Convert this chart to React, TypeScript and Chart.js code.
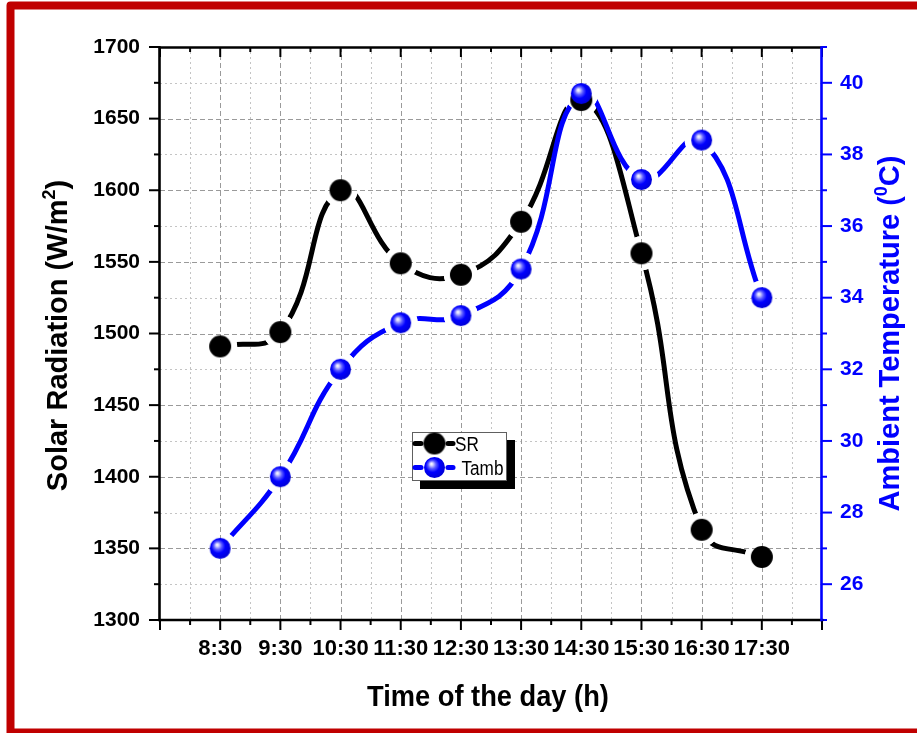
import React, { useEffect, useRef } from 'react';
import { Chart, registerables } from 'chart.js';

Chart.register(...registerables);

const FONT = '"Liberation Sans", Arial, Helvetica, sans-serif';

// ---- data ----
const TIMES = ['8:30', '9:30', '10:30', '11:30', '12:30', '13:30', '14:30', '15:30', '16:30', '17:30'];
const SR = [1491, 1501, 1600, 1549, 1541, 1578, 1663, 1556, 1363, 1344];
const TAMB = [27.0, 29.0, 32.0, 33.3, 33.5, 34.8, 39.7, 37.3, 38.4, 34.0];
const LEFT_TICKS = [1300, 1350, 1400, 1450, 1500, 1550, 1600, 1650, 1700];
const RIGHT_TICKS = [26, 28, 30, 32, 34, 36, 38, 40];
const X_MIN = -1; // 7:30
const X_MAX = 10; // 18:30

const BLUE = '#0000ff';
const HOLE = 17;

let BLACK_IMG: HTMLCanvasElement | null = null;
let BLUE_IMG: HTMLCanvasElement | null = null;

function makeBall(r: number, kind: 'black' | 'blue'): HTMLCanvasElement {
  const size = Math.ceil(r * 2 + 2);
  const c = document.createElement('canvas');
  c.width = size;
  c.height = size;
  const g = c.getContext('2d')!;
  const cx = size / 2;
  const cy = size / 2;
  g.beginPath();
  g.arc(cx, cy, r, 0, Math.PI * 2);
  if (kind === 'black') {
    g.fillStyle = '#000000';
  } else {
    const grad = g.createRadialGradient(cx - r * 0.3, cy - r * 0.35, 0, cx - r * 0.1, cy - r * 0.1, r * 1.1);
    grad.addColorStop(0, '#ffffff');
    grad.addColorStop(0.12, '#d8d8ff');
    grad.addColorStop(0.35, '#5a5aff');
    grad.addColorStop(0.6, '#0000ff');
    grad.addColorStop(1, '#0000d8');
    g.fillStyle = grad;
  }
  g.fill();
  return c;
}

type Part = { t: string; sup?: boolean };

function drawRich(ctx: CanvasRenderingContext2D, parts: Part[], size: number, color: string) {
  const normal = `bold ${size}px ${FONT}`;
  const small = `bold ${Math.round(size * 0.62)}px ${FONT}`;
  let total = 0;
  const widths = parts.map((p) => {
    ctx.font = p.sup ? small : normal;
    const w = ctx.measureText(p.t).width;
    total += w;
    return w;
  });
  let x = -total / 2;
  ctx.fillStyle = color;
  ctx.textAlign = 'left';
  ctx.textBaseline = 'alphabetic';
  parts.forEach((p, i) => {
    ctx.font = p.sup ? small : normal;
    ctx.fillText(p.t, x, p.sup ? -size * 0.4 : 0);
    x += widths[i];
  });
}

function hLine(ctx: CanvasRenderingContext2D, x1: number, x2: number, y: number) {
  ctx.beginPath();
  ctx.moveTo(x1, y);
  ctx.lineTo(x2, y);
  ctx.stroke();
}
function vLine(ctx: CanvasRenderingContext2D, x: number, y1: number, y2: number) {
  ctx.beginPath();
  ctx.moveTo(x, y1);
  ctx.lineTo(x, y2);
  ctx.stroke();
}

// clip path: whole canvas minus a small disc around each of the dataset's own markers
function holePath(chart: any, index: number): Path2D {
  const ds: any = chart.data.datasets[index];
  const ys = chart.scales[ds.yAxisID || 'y'];
  const xs = chart.scales.x;
  const p = new Path2D();
  p.rect(0, 0, chart.width, chart.height);
  (ds.data as any[]).forEach((d) => {
    const px = xs.getPixelForValue(d.x);
    const py = ys.getPixelForValue(d.y);
    p.moveTo(px + HOLE, py);
    p.arc(px, py, HOLE, 0, Math.PI * 2, true);
  });
  return p;
}

const gapPlugin = {
  id: 'markerGaps',
  beforeDatasetDraw(chart: any, args: any) {
    const ds: any = chart.data.datasets[args.index];
    if (!ds || ds.showLine === false) return;
    chart.ctx.save();
    chart.ctx.clip(holePath(chart, args.index), 'evenodd');
  },
  afterDatasetDraw(chart: any, args: any) {
    const ds: any = chart.data.datasets[args.index];
    if (!ds || ds.showLine === false) return;
    chart.ctx.restore();
  },
};

const gridPlugin = {
  id: 'originGrid',
  beforeDatasetsDraw(chart: any) {
    const { ctx, chartArea, scales } = chart;
    const { left, right, top, bottom } = chartArea;
    const xs = scales.x;
    const ys = scales.y;
    ctx.save();
    ctx.lineWidth = 1;
    ctx.strokeStyle = '#c4c4c4';
    ctx.setLineDash([2, 3]);
    for (let i = 0; i < LEFT_TICKS.length - 1; i++) {
      const v = (LEFT_TICKS[i] + LEFT_TICKS[i + 1]) / 2;
      hLine(ctx, left, right, Math.round(ys.getPixelForValue(v)) + 0.5);
    }
    for (let k = X_MIN; k < X_MAX; k++) {
      vLine(ctx, Math.round(xs.getPixelForValue(k + 0.5)) + 0.5, top, bottom);
    }
    ctx.strokeStyle = '#9a9a9a';
    ctx.setLineDash([5, 3]);
    for (let i = 1; i < LEFT_TICKS.length - 1; i++) {
      hLine(ctx, left, right, Math.round(ys.getPixelForValue(LEFT_TICKS[i])) + 0.5);
    }
    for (let k = X_MIN + 1; k < X_MAX; k++) {
      vLine(ctx, Math.round(xs.getPixelForValue(k)) + 0.5, top, bottom);
    }
    ctx.restore();
  },
};

const decorPlugin = {
  id: 'originDecor',
  afterDatasetsDraw(chart: any) {
    const { ctx, chartArea, scales } = chart;
    const { left, right, top, bottom } = chartArea;
    const xs = scales.x;
    const ys = scales.y;
    const y2 = scales.y2;
    ctx.save();
    ctx.setLineDash([]);
    ctx.lineCap = 'butt';
    ctx.lineWidth = 2;
    ctx.strokeStyle = '#000';
    LEFT_TICKS.forEach((v, i) => {
      hLine(ctx, left - 11, left, ys.getPixelForValue(v));
      if (i < LEFT_TICKS.length - 1) {
        hLine(ctx, left - 6, left, ys.getPixelForValue((v + LEFT_TICKS[i + 1]) / 2));
      }
    });
    for (let k = X_MIN; k <= X_MAX; k++) {
      const x = xs.getPixelForValue(k);
      vLine(ctx, x, bottom, bottom + 10);
      vLine(ctx, x, top, top + 10);
      if (k < X_MAX) {
        const xm = xs.getPixelForValue(k + 0.5);
        vLine(ctx, xm, bottom, bottom + 5);
        vLine(ctx, xm, top, top + 5);
      }
    }
    ctx.strokeStyle = BLUE;
    for (let v = y2.min; v <= y2.max; v++) {
      const major = RIGHT_TICKS.indexOf(v) >= 0;
      hLine(ctx, right, right + (major ? 10 : 5), y2.getPixelForValue(v));
    }
    ctx.lineWidth = 2.6;
    ctx.strokeStyle = '#000';
    hLine(ctx, left - 1.3, right, top + 0.5);
    hLine(ctx, left - 1.3, right + 1.3, bottom);
    vLine(ctx, left - 0.5, top - 0.8, bottom + 1.3);
    ctx.strokeStyle = BLUE;
    vLine(ctx, right - 0.5, top - 0.8, bottom + 1.3);
    ctx.restore();
  },
  afterDraw(chart: any) {
    const { ctx, chartArea } = chart;
    const { left, right } = chartArea;
    ctx.save();
    // ---- legend ----
    const lx = 412;
    const ly = 432;
    const lw = 95;
    const lh = 49;
    ctx.fillStyle = '#000';
    ctx.fillRect(lx + 8, ly + 8, lw, lh);
    ctx.fillStyle = '#fff';
    ctx.fillRect(lx, ly, lw, lh);
    ctx.strokeStyle = '#606060';
    ctx.lineWidth = 1;
    ctx.strokeRect(lx + 0.5, ly + 0.5, lw - 1, lh - 1);
    const rows = [
      { y: ly + 11.5, color: '#000', img: BLACK_IMG, label: 'SR', tx: 455 },
      { y: ly + 35.5, color: BLUE, img: BLUE_IMG, label: 'Tamb', tx: 461.5 },
    ];
    rows.forEach((r) => {
      ctx.strokeStyle = r.color;
      ctx.lineWidth = 5;
      ctx.lineCap = 'round';
      hLine(ctx, 415, 421, r.y);
      hLine(ctx, 448, 453, r.y);
      if (r.img) ctx.drawImage(r.img, 434.5 - r.img.width / 2, r.y - r.img.height / 2);
      ctx.save();
      ctx.translate(r.tx, r.y + 7);
      ctx.scale(0.88, 1);
      ctx.font = `19.5px ${FONT}`;
      ctx.fillStyle = '#000';
      ctx.textAlign = 'left';
      ctx.textBaseline = 'alphabetic';
      ctx.fillText(r.label, 0, 0);
      ctx.restore();
    });
    // ---- titles ----
    ctx.save();
    ctx.translate((left + right) / 2 - 3, 706);
    ctx.scale(0.94, 1);
    drawRich(ctx, [{ t: 'Time of the day (h)' }], 29, '#000');
    ctx.restore();

    ctx.save();
    ctx.translate(67, 335.5);
    ctx.rotate(-Math.PI / 2);
    drawRich(ctx, [{ t: 'Solar Radiation (W/m' }, { t: '2', sup: true }, { t: ')' }], 29, '#000');
    ctx.restore();

    ctx.save();
    ctx.translate(899, 333.5);
    ctx.rotate(-Math.PI / 2);
    drawRich(ctx, [{ t: 'Ambient Temperature (' }, { t: '0', sup: true }, { t: 'C)' }], 29, BLUE);
    ctx.restore();

    // ---- red frame ----
    ctx.strokeStyle = '#c00000';
    ctx.lineWidth = 8;
    ctx.lineJoin = 'round';
    ctx.strokeRect(10.5, 5.5, 960, 727);
    ctx.restore();
  },
};

export default function App() {
  const ref = useRef<HTMLCanvasElement | null>(null);

  useEffect(() => {
    const canvas = ref.current;
    if (!canvas) return;
    BLACK_IMG = makeBall(11, 'black');
    BLUE_IMG = makeBall(10.5, 'blue');
    const srPts = SR.map((v, i) => ({ x: i, y: v }));
    const tPts = TAMB.map((v, i) => ({ x: i, y: v }));

    const chart = new Chart(canvas, {
      type: 'line',
      data: {
        datasets: [
          { data: srPts, yAxisID: 'y', borderColor: '#000', borderWidth: 5, pointRadius: 0, tension: 0.45, order: 4 },
          { data: srPts, yAxisID: 'y', showLine: false, pointStyle: BLACK_IMG as any, pointRadius: 11, order: 3 },
          { data: tPts, yAxisID: 'y2', borderColor: BLUE, borderWidth: 5, pointRadius: 0, tension: 0.45, order: 2 },
          { data: tPts, yAxisID: 'y2', showLine: false, pointStyle: BLUE_IMG as any, pointRadius: 10.5, order: 1 },
        ],
      },
      options: {
        animation: false,
        responsive: false,
        events: [],
        layout: { padding: { top: 47, left: 0, right: 0, bottom: 0 } },
        plugins: {
          legend: { display: false },
          tooltip: { enabled: false },
          title: { display: false },
        },
        scales: {
          x: {
            type: 'linear',
            position: 'bottom',
            min: X_MIN,
            max: X_MAX,
            grid: { display: false, drawTicks: false },
            border: { display: false },
            afterBuildTicks: (axis: any) => {
              const t = [];
              for (let k = X_MIN; k <= X_MAX; k++) t.push({ value: k });
              axis.ticks = t;
            },
            afterFit: (axis: any) => {
              axis.height = 113;
            },
            ticks: {
              autoSkip: false,
              maxRotation: 0,
              minRotation: 0,
              padding: 16,
              color: '#000',
              font: { family: FONT, size: 22, weight: 'bold' },
              callback: (v: any) => TIMES[v as number] ?? '',
            },
          },
          y: {
            type: 'linear',
            position: 'left',
            min: 1300,
            max: 1700,
            grid: { display: false, drawTicks: false },
            border: { display: false },
            afterBuildTicks: (axis: any) => {
              axis.ticks = LEFT_TICKS.map((v) => ({ value: v }));
            },
            afterFit: (axis: any) => {
              axis.width = 160;
            },
            ticks: {
              padding: 20,
              color: '#000',
              font: { family: FONT, size: 21, weight: 'bold' },
              callback: (v: any) => String(v),
            },
          },
          y2: {
            type: 'linear',
            position: 'right',
            min: 25,
            max: 41,
            grid: { display: false, drawTicks: false },
            border: { display: false },
            afterBuildTicks: (axis: any) => {
              axis.ticks = RIGHT_TICKS.map((v) => ({ value: v }));
            },
            afterFit: (axis: any) => {
              axis.width = 95;
            },
            ticks: {
              padding: 18,
              color: BLUE,
              font: { family: FONT, size: 21, weight: 'bold' },
              callback: (v: any) => String(v),
            },
          },
        },
      } as any,
      plugins: [gridPlugin as any, gapPlugin as any, decorPlugin as any],
    });

    // fallback: also clip the two connecting-line elements directly, then redraw
    try {
      [0, 2].forEach((i) => {
        const el: any = chart.getDatasetMeta(i).dataset;
        if (!el || el.__gapped) return;
        const orig = el.draw;
        el.__gapped = true;
        el.draw = function (ctx: any, ...rest: any[]) {
          ctx.save();
          try {
            ctx.clip(holePath(chart, i), 'evenodd');
          } catch (e) {
            /* ignore */
          }
          const r = orig.apply(this, [ctx, ...rest]);
          ctx.restore();
          return r;
        };
      });
      chart.draw();
    } catch (e) {
      /* ignore */
    }
    return () => chart.destroy();
  }, []);

  return (
    <div style={{ position: 'fixed', left: 0, top: 0, width: 917, height: 733, background: '#fff' }}>
      <canvas ref={ref} width={917} height={733} style={{ display: 'block' }} />
    </div>
  );
}
